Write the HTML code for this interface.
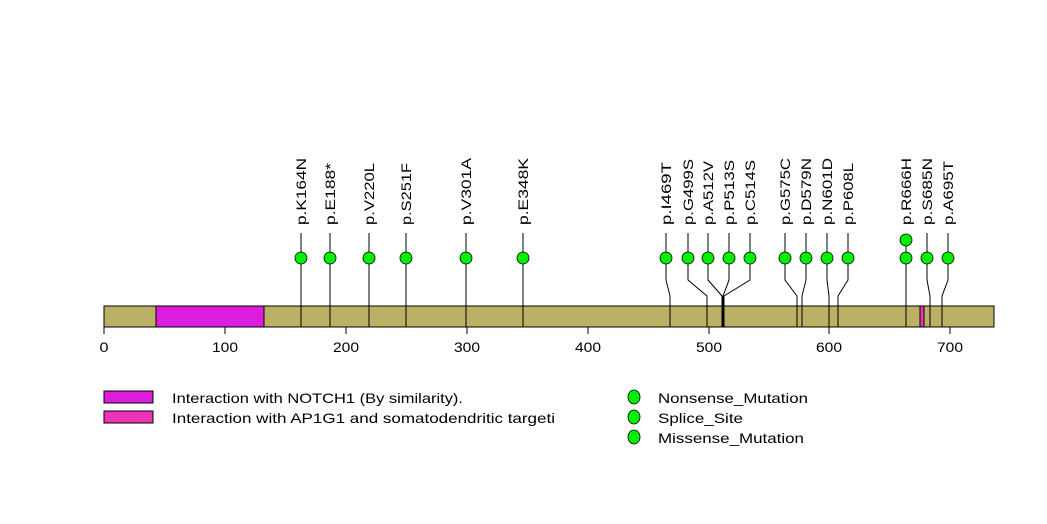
<!DOCTYPE html>
<html><head><meta charset="utf-8"><style>
html,body{margin:0;padding:0;background:#fff;}
svg{display:block;}
text{font-family:"Liberation Sans",sans-serif;font-size:14px;fill:#000;}
</style></head><body>
<svg width="1047" height="524" viewBox="0 0 1047 524" xmlns="http://www.w3.org/2000/svg">
<rect x="0" y="0" width="1047" height="524" fill="#fff"/>
<rect x="104" y="306" width="890" height="21" fill="#bab066" stroke="#000" stroke-width="1"/>
<rect x="156" y="306" width="108" height="21" fill="#dd1ddd" stroke="#000" stroke-width="1"/>
<rect x="920" y="306" width="4" height="21" fill="#ee33bb" stroke="#000" stroke-width="1"/>
<g stroke="#000" stroke-width="1">
<line x1="104" y1="327" x2="104" y2="334"/>
<line x1="225" y1="327" x2="225" y2="334"/>
<line x1="346" y1="327" x2="346" y2="334"/>
<line x1="467" y1="327" x2="467" y2="334"/>
<line x1="588" y1="327" x2="588" y2="334"/>
<line x1="709" y1="327" x2="709" y2="334"/>
<line x1="829" y1="327" x2="829" y2="334"/>
<line x1="950" y1="327" x2="950" y2="334"/>
</g>
<g text-anchor="middle" lengthAdjust="spacingAndGlyphs">
<text x="104" y="352" textLength="9" lengthAdjust="spacingAndGlyphs">0</text>
<text x="225" y="352" textLength="26" lengthAdjust="spacingAndGlyphs">100</text>
<text x="346" y="352" textLength="26" lengthAdjust="spacingAndGlyphs">200</text>
<text x="467" y="352" textLength="26" lengthAdjust="spacingAndGlyphs">300</text>
<text x="588" y="352" textLength="26" lengthAdjust="spacingAndGlyphs">400</text>
<text x="709" y="352" textLength="26" lengthAdjust="spacingAndGlyphs">500</text>
<text x="829" y="352" textLength="26" lengthAdjust="spacingAndGlyphs">600</text>
<text x="950" y="352" textLength="26" lengthAdjust="spacingAndGlyphs">700</text>
</g>
<g stroke="#000" stroke-width="1" fill="none">
<polyline points="301,233 301,327"/>
<polyline points="330,233 330,327"/>
<polyline points="369,233 369,327"/>
<polyline points="406,233 406,327"/>
<polyline points="466,233 466,327"/>
<polyline points="523,233 523,327"/>
<polyline points="666,233 666,280 670,296 670,327"/>
<polyline points="688,233 688,280 707,296 707,327"/>
<polyline points="708,233 708,280 722,296 722,327"/>
<polyline points="729,233 729,280 723,296 723,327"/>
<polyline points="750,233 750,280 724,296 724,327"/>
<polyline points="785,233 785,280 797,296 797,327"/>
<polyline points="806,233 806,280 802,296 802,327"/>
<polyline points="827,233 827,280 829,296 829,327"/>
<polyline points="848,233 848,280 838,296 838,327"/>
<polyline points="906,246 906,327"/>
<polyline points="927,233 927,280 930,296 930,327"/>
<polyline points="948,233 948,280 942,296 942,327"/>
</g>
<g fill="#00ee00" stroke="#000" stroke-width="0.8">
<circle cx="301" cy="258" r="6"/><circle cx="330" cy="258" r="6"/><circle cx="369" cy="258" r="6"/><circle cx="406" cy="258" r="6"/><circle cx="466" cy="258" r="6"/><circle cx="523" cy="258" r="6"/>
<circle cx="666" cy="258" r="6"/><circle cx="688" cy="258" r="6"/><circle cx="708" cy="258" r="6"/><circle cx="729" cy="258" r="6"/><circle cx="750" cy="258" r="6"/>
<circle cx="785" cy="258" r="6"/><circle cx="806" cy="258" r="6"/><circle cx="827" cy="258" r="6"/><circle cx="848" cy="258" r="6"/>
<circle cx="906" cy="240" r="6"/><circle cx="906" cy="258" r="6"/><circle cx="927" cy="258" r="6"/><circle cx="948" cy="258" r="6"/>
</g>
<g>
<text transform="translate(306,225) rotate(-90)" textLength="67" lengthAdjust="spacingAndGlyphs">p.K164N</text>
<text transform="translate(335,225) rotate(-90)" textLength="62" lengthAdjust="spacingAndGlyphs">p.E188*</text>
<text transform="translate(374,225) rotate(-90)" textLength="62" lengthAdjust="spacingAndGlyphs">p.V220L</text>
<text transform="translate(411,225) rotate(-90)" textLength="62" lengthAdjust="spacingAndGlyphs">p.S251F</text>
<text transform="translate(471,225) rotate(-90)" textLength="67" lengthAdjust="spacingAndGlyphs">p.V301A</text>
<text transform="translate(528,225) rotate(-90)" textLength="67" lengthAdjust="spacingAndGlyphs">p.E348K</text>
<text transform="translate(671,225) rotate(-90)" textLength="63" lengthAdjust="spacingAndGlyphs">p.I469T</text>
<text transform="translate(693,225) rotate(-90)" textLength="66" lengthAdjust="spacingAndGlyphs">p.G499S</text>
<text transform="translate(713,225) rotate(-90)" textLength="64" lengthAdjust="spacingAndGlyphs">p.A512V</text>
<text transform="translate(734,225) rotate(-90)" textLength="65" lengthAdjust="spacingAndGlyphs">p.P513S</text>
<text transform="translate(755,225) rotate(-90)" textLength="65" lengthAdjust="spacingAndGlyphs">p.C514S</text>
<text transform="translate(790,225) rotate(-90)" textLength="67" lengthAdjust="spacingAndGlyphs">p.G575C</text>
<text transform="translate(811,225) rotate(-90)" textLength="67" lengthAdjust="spacingAndGlyphs">p.D579N</text>
<text transform="translate(832,225) rotate(-90)" textLength="67" lengthAdjust="spacingAndGlyphs">p.N601D</text>
<text transform="translate(853,225) rotate(-90)" textLength="62" lengthAdjust="spacingAndGlyphs">p.P608L</text>
<text transform="translate(911,225) rotate(-90)" textLength="67" lengthAdjust="spacingAndGlyphs">p.R666H</text>
<text transform="translate(932,225) rotate(-90)" textLength="67" lengthAdjust="spacingAndGlyphs">p.S685N</text>
<text transform="translate(953,225) rotate(-90)" textLength="64" lengthAdjust="spacingAndGlyphs">p.A695T</text>
</g>
<rect x="104" y="391" width="49" height="12" fill="#dd1ddd" stroke="#000" stroke-width="1"/>
<rect x="104" y="411" width="49" height="12" fill="#ee33bb" stroke="#000" stroke-width="1"/>
<text x="172" y="403" textLength="291" lengthAdjust="spacingAndGlyphs">Interaction with NOTCH1 (By similarity).</text>
<text x="172" y="423" textLength="383" lengthAdjust="spacingAndGlyphs">Interaction with AP1G1 and somatodendritic targeti</text>
<g fill="#00ee00" stroke="#000" stroke-width="0.8">
<ellipse cx="634" cy="397" rx="6" ry="7"/><ellipse cx="634" cy="417" rx="6" ry="7"/><ellipse cx="634" cy="437" rx="6" ry="7"/>
</g>
<text x="658" y="403" textLength="150" lengthAdjust="spacingAndGlyphs">Nonsense_Mutation</text>
<text x="658" y="423" textLength="85" lengthAdjust="spacingAndGlyphs">Splice_Site</text>
<text x="658" y="443" textLength="146" lengthAdjust="spacingAndGlyphs">Missense_Mutation</text>
</svg>
</body></html>
